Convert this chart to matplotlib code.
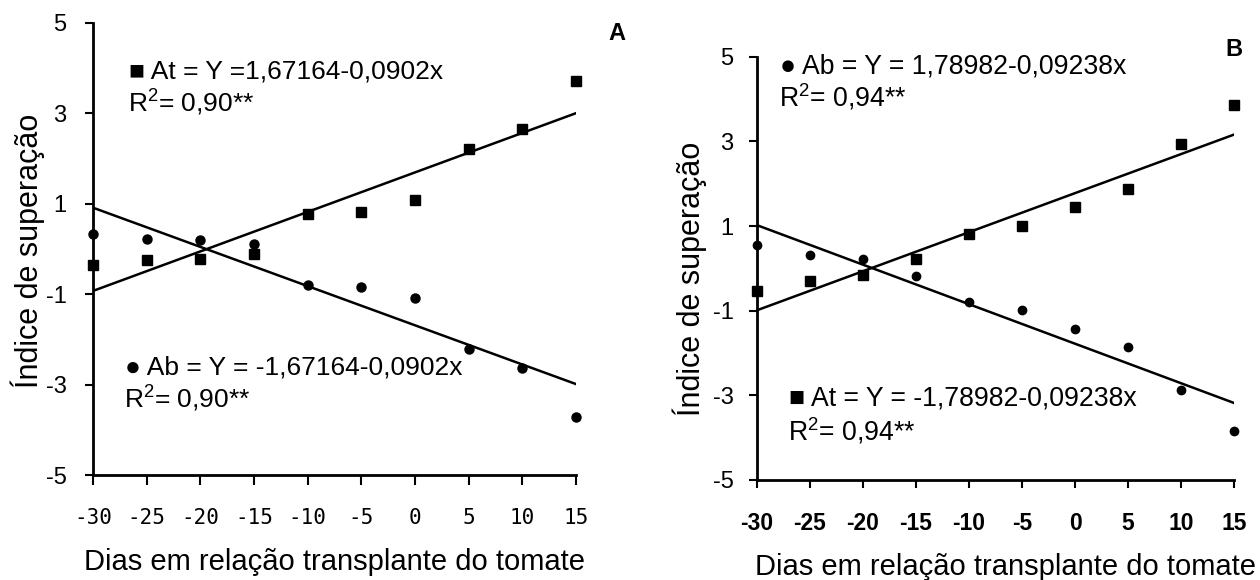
#!/usr/bin/env python3

## Indice de superacao x dias em relacao ao transplante do tomate ##

## Import Modules ##
import matplotlib
matplotlib.use('Agg')
import matplotlib.pyplot as plt

plt.rcParams['font.family'] = ['Liberation Sans', 'DejaVu Sans']
plt.rcParams['mathtext.fontset'] = 'custom'
plt.rcParams['mathtext.rm'] = 'Liberation Sans'
plt.rcParams['mathtext.it'] = 'Liberation Sans'
plt.rcParams['axes.unicode_minus'] = False

## Data ##
dias = [-30, -25, -20, -15, -10, -5, 0, 5, 10, 15]
y_ticks = [-5, -3, -1, 1, 3, 5]

# panel A
a_at = [-0.35, -0.24, -0.22, -0.12, 0.78, 0.81, 1.09, 2.20, 2.64, 3.71]
a_ab = [0.33, 0.21, 0.19, 0.11, -0.80, -0.84, -1.09, -2.21, -2.64, -3.72]
# panel B
b_at = [-0.53, -0.31, -0.16, 0.21, 0.80, 1.00, 1.44, 1.87, 2.94, 3.86]
b_ab = [0.56, 0.32, 0.23, -0.18, -0.80, -0.98, -1.43, -1.85, -2.87, -3.85]

# regression lines (end points at x = -30 and 15)
line_x = [-30, 15]
a_at_line = [-0.93, 3.00]
a_ab_line = [0.91, -2.99]
b_at_line = [-0.99, 3.16]
b_ab_line = [1.02, -3.18]

## Figure ##
fig = plt.figure(figsize=(12.6, 5.8), dpi=100)
axA = fig.add_axes([93/1260, 105/580, 483/1260, 452.3/580])
axB = fig.add_axes([757/1260, 100/580, 477/1260, 423.3/580])


def base_axes(ax):
    ax.set_xlim(-30, 15)
    ax.set_ylim(-5, 5)
    ax.spines['top'].set_visible(False)
    ax.spines['right'].set_visible(False)
    ax.spines['left'].set_linewidth(2)
    ax.spines['bottom'].set_linewidth(2)
    ax.set_xticks(dias)
    ax.set_yticks(y_ticks)


# ax A
base_axes(axA)
axA.plot(line_x, a_at_line, color='black', lw=1.8, zorder=2)
axA.plot(line_x, a_ab_line, color='black', lw=1.8, zorder=2)
axA.plot(dias, a_at, 's', color='black', ms=7.5, clip_on=False, zorder=3)
axA.plot(dias, a_ab, 'o', color='black', ms=6.5, clip_on=False, zorder=3)
axA.tick_params(axis='x', length=7, width=1.5, pad=17)
axA.tick_params(axis='y', length=6, width=1.5, pad=13)
for lab in axA.get_xticklabels():
    lab.set_fontfamily('DejaVu Sans Mono')
    lab.set_fontsize(15)
for lab in axA.get_yticklabels():
    lab.set_fontsize(17)
axA.set_xlabel('Dias em relação transplante do tomate', fontsize=21, va='center')
axA.xaxis.set_label_coords(0.5, -0.192)
axA.set_ylabel('Índice de superação', fontsize=22, va='center')
axA.yaxis.set_label_coords(-0.135, 0.495)
axA.text(-26.6, 3.77, '■ At = Y =1,67164-0,0902x', fontsize=19)
axA.text(-26.7, 3.02, 'R$^2$= 0,90**', fontsize=19)
axA.text(-27.0, -2.77, '● Ab = Y = -1,67164-0,0902x', fontsize=19)
axA.text(-27.1, -3.53, 'R$^2$= 0,90**', fontsize=19)

# ax B
base_axes(axB)
axB.plot(line_x, b_at_line, color='black', lw=1.8, zorder=2)
axB.plot(line_x, b_ab_line, color='black', lw=1.8, zorder=2)
axB.plot(dias, b_at, 's', color='black', ms=7, clip_on=False, zorder=3)
axB.plot(dias, b_ab, 'o', color='black', ms=6, clip_on=False, zorder=3)
axB.tick_params(axis='x', length=6, width=1.5, pad=17)
axB.tick_params(axis='y', length=6, width=1.5, pad=11)
for lab in axB.get_xticklabels():
    lab.set_fontweight('bold')
    lab.set_fontsize(16.5)
for lab in axB.get_yticklabels():
    lab.set_fontsize(17)
axB.set_xlabel('Dias em relação transplante do tomate', fontsize=21, va='center')
axB.xaxis.set_label_coords(0.52, -0.206)
axB.set_ylabel('Índice de superação', fontsize=22, va='center')
axB.yaxis.set_label_coords(-0.140, 0.475)
axB.text(-27.8, 4.61, '● Ab = Y = 1,78982-0,09238x', fontsize=19.2)
axB.text(-27.9, 3.82, 'R$^2$= 0,94**', fontsize=19.2)
axB.text(-26.97, -3.23, '■ At = Y = -1,78982-0,09238x', fontsize=19.2)
axB.text(-27.1, -4.06, 'R$^2$= 0,94**', fontsize=19.2)

# panel letters
fig.text(617/1260, 1 - 34/580, 'A', fontsize=17, fontweight='bold', ha='center', va='center')
fig.text(1234/1260, 1 - 50/580, 'B', fontsize=17, fontweight='bold', ha='center', va='center')

# save
fig.savefig('out.png', dpi=100)
